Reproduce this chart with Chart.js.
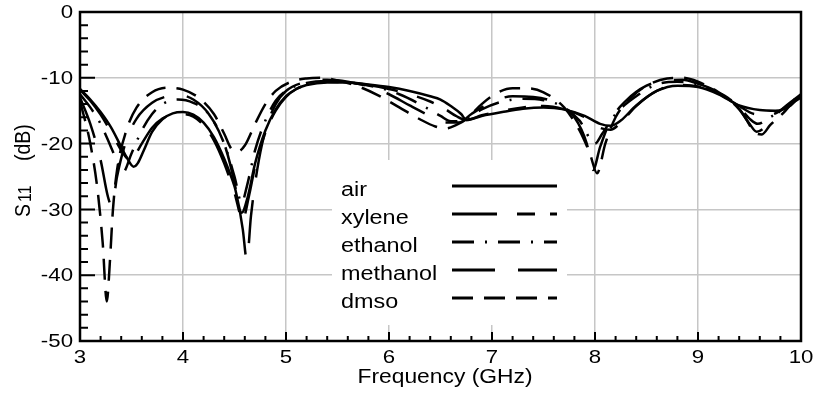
<!DOCTYPE html>
<html>
<head>
<meta charset="utf-8">
<title>S11 vs frequency</title>
<script src="https://cdn.jsdelivr.net/npm/chart.js@4.4.1/dist/chart.umd.min.js"></script>
<style>
	body { margin: 0; background: #fff; }
	canvas { display: block; }
</style>
</head>
<body>
<canvas id="myChart" width="818" height="393"></canvas>
<script>
"use strict";

// Measured return loss (dB) of the sensor for each liquid
const seriesNames = ["air", "xylene", "ethanol", "methanol", "dmso"];

const airFreq = [3.0, 3.1, 3.2, 3.3, 3.4, 3.45, 3.52, 3.56, 3.62, 3.7, 3.8, 3.9, 4.0, 4.1, 4.2, 4.3, 4.4, 4.5, 4.57, 4.63, 4.7, 4.8, 4.9, 5.0, 5.1, 5.2, 5.4, 5.6, 5.8, 6.0, 6.2, 6.4, 6.5, 6.6, 6.7, 6.75, 6.9, 7.1, 7.3, 7.5, 7.7, 7.9, 8.05, 8.15, 8.25, 8.4, 8.6, 8.8, 9.0, 9.2, 9.4, 9.6, 9.75, 9.9, 10.0];
const airS11 = [-11.7, -13.3, -15.2, -17.5, -20.5, -22.0, -23.5, -23.0, -21.0, -18.2, -16.3, -15.4, -15.2, -15.6, -16.8, -19.0, -22.3, -26.5, -30.5, -28.0, -23.0, -18.0, -14.8, -12.8, -11.7, -11.1, -10.7, -10.7, -11.0, -11.4, -12.0, -12.8, -13.3, -14.3, -15.5, -16.4, -15.8, -15.2, -14.7, -14.5, -14.8, -15.8, -17.0, -17.3, -16.5, -14.2, -12.0, -11.2, -11.4, -12.5, -14.2, -14.9, -15.0, -14.2, -12.5];

const xyleneFreq = [3.0, 3.1, 3.2, 3.3, 3.4, 3.47, 3.52, 3.6, 3.7, 3.8, 3.9, 4.0, 4.1, 4.2, 4.3, 4.4, 4.5, 4.58, 4.64, 4.7, 4.8, 4.9, 5.0, 5.1, 5.2, 5.4, 5.6, 5.8, 6.0, 6.2, 6.4, 6.55, 6.65, 6.75, 6.9, 7.1, 7.3, 7.5, 7.7, 7.9, 8.05, 8.15, 8.25, 8.4, 8.6, 8.8, 9.0, 9.2, 9.4, 9.55, 9.7, 9.85, 10.0];
const xyleneS11 = [-11.8, -13.5, -15.6, -18.2, -21.0, -22.3, -22.0, -20.0, -17.6, -16.2, -15.6, -15.5, -15.9, -17.2, -19.5, -23.0, -27.5, -31.5, -28.0, -23.5, -18.3, -15.0, -12.9, -11.7, -11.1, -10.6, -10.7, -11.1, -11.7, -12.5, -13.6, -14.8, -15.8, -16.4, -15.7, -15.0, -14.5, -14.3, -14.8, -16.0, -17.6, -17.9, -16.8, -14.3, -12.0, -11.1, -11.3, -12.4, -14.3, -15.5, -15.6, -14.5, -12.8];

const ethanolFreq = [3.0, 3.1, 3.2, 3.3, 3.37, 3.42, 3.5, 3.6, 3.7, 3.8, 3.95, 4.1, 4.25, 4.4, 4.5, 4.57, 4.62, 4.7, 4.8, 4.9, 5.0, 5.2, 5.4, 5.6, 5.9, 6.1, 6.3, 6.5, 6.6, 6.72, 6.9, 7.1, 7.3, 7.5, 7.7, 7.85, 8.0, 8.07, 8.2, 8.4, 8.6, 8.8, 9.0, 9.2, 9.4, 9.5, 9.58, 9.7, 9.85, 10.0];
const ethanolS11 = [-12.5, -14.5, -17.0, -20.5, -23.0, -24.3, -21.5, -18.0, -15.5, -14.0, -13.3, -13.8, -15.5, -20.0, -25.0, -29.0, -26.5, -21.0, -16.5, -13.5, -12.0, -10.8, -10.5, -10.7, -11.5, -12.5, -14.0, -15.8, -16.6, -16.5, -14.8, -13.6, -13.2, -13.4, -14.5, -16.5, -20.0, -18.5, -15.5, -12.8, -11.0, -10.6, -11.0, -12.3, -14.5, -16.2, -17.0, -16.0, -14.5, -13.0];

const methanolFreq = [3.0, 3.1, 3.2, 3.27, 3.31, 3.36, 3.45, 3.55, 3.7, 3.85, 3.95, 4.1, 4.25, 4.4, 4.5, 4.58, 4.62, 4.66, 4.72, 4.8, 4.9, 5.0, 5.2, 5.4, 5.6, 5.8, 6.0, 6.2, 6.4, 6.55, 6.68, 6.8, 7.0, 7.2, 7.4, 7.6, 7.8, 7.92, 7.98, 8.05, 8.15, 8.3, 8.5, 8.7, 8.85, 9.0, 9.2, 9.4, 9.5, 9.57, 9.65, 9.8, 10.0];
const methanolS11 = [-13.0, -17.0, -22.5, -28.0, -29.5, -25.0, -19.5, -16.2, -13.8, -12.8, -12.6, -13.3, -15.5, -20.0, -26.0, -33.0, -37.7, -31.0, -24.0, -18.0, -14.0, -12.0, -10.6, -10.3, -10.6, -11.3, -12.5, -14.2, -15.8, -16.8, -16.8, -15.5, -13.7, -12.8, -12.9, -13.7, -16.0, -20.0, -24.0, -20.5, -16.5, -13.5, -11.2, -10.4, -10.3, -10.9, -12.2, -14.8, -17.0, -18.2, -17.5, -15.0, -12.5];

const dmsoFreq = [3.0, 3.1, 3.17, 3.22, 3.26, 3.29, 3.32, 3.36, 3.45, 3.55, 3.7, 3.85, 4.0, 4.15, 4.3, 4.4, 4.47, 4.53, 4.6, 4.7, 4.8, 4.9, 5.05, 5.2, 5.35, 5.5, 5.7, 5.9, 6.1, 6.3, 6.45, 6.55, 6.65, 6.75, 6.9, 7.05, 7.2, 7.35, 7.5, 7.7, 7.85, 7.95, 8.02, 8.1, 8.2, 8.35, 8.5, 8.7, 8.85, 9.0, 9.2, 9.35, 9.45, 9.55, 9.62, 9.7, 9.85, 10.0];
const dmsoS11 = [-13.5, -20.0, -27.0, -35.0, -44.0, -38.0, -30.0, -24.0, -18.0, -14.5, -12.2, -11.5, -11.8, -13.0, -15.5, -18.5, -20.8, -21.2, -20.3, -17.0, -14.0, -12.0, -10.6, -10.1, -10.0, -10.4, -11.3, -12.7, -14.5, -16.3, -17.4, -17.7, -17.2, -16.3, -14.0, -12.3, -11.6, -11.6, -12.2, -14.5, -18.0, -21.5, -24.5, -20.0, -16.0, -13.0, -11.2, -10.1, -10.0, -10.6, -12.2, -13.8, -15.8, -18.3, -18.6, -17.2, -15.0, -12.0];

// Axis ticks
const xTickLabels = ["3", "4", "5", "6", "7", "8", "9", "10"];
const yTickLabels = ["0", "-10", "-20", "-30", "-40", "-50"];

const freqs = [airFreq, xyleneFreq, ethanolFreq, methanolFreq, dmsoFreq];
const values = [airS11, xyleneS11, ethanolS11, methanolS11, dmsoS11];

// Line styles for each liquid
const dashes = [[], [45, 20, 18, 15], [22, 11, 2, 11], [43, 23], [21, 11]];

// The old plot was exported slightly wide, so text is stretched a bit
const TEXT_STRETCH = 1.17;
const FONT = "Liberation Sans, Arial, sans-serif";

function stretchedText(ctx, text, x, y, size, align, baseline) {
	ctx.save();
	ctx.translate(x, y);
	ctx.scale(TEXT_STRETCH, 1);
	ctx.font = size + "px " + FONT;
	ctx.fillStyle = "#000";
	ctx.textAlign = align;
	ctx.textBaseline = baseline;
	ctx.fillText(text, 0, 0);
	ctx.restore();
}

// Legend box area, drawn inside the plot
const legendBox = { left: 332, top: 160, right: 567, bottom: 325 };

const framePlugin = {
	id: "frame",
	beforeDatasetsDraw(chart) {
		const ctx = chart.ctx;
		ctx.save();
		ctx.fillStyle = "#fff";
		ctx.fillRect(legendBox.left, legendBox.top, legendBox.right - legendBox.left, legendBox.bottom - legendBox.top);
		ctx.restore();
	},
	afterDatasetsDraw(chart) {
		const ctx = chart.ctx;
		const area = chart.chartArea;
		const xs = chart.scales.x;
		const ys = chart.scales.y;

		ctx.save();
		ctx.strokeStyle = "#000";
		ctx.lineWidth = 2.5;
		ctx.strokeRect(area.left, area.top, area.right - area.left, area.bottom - area.top);

		// Inward tick marks, minor every 0.2 GHz and 2 dB
		ctx.lineWidth = 2;
		ctx.beginPath();
		for (let i = 0; i <= 35; i++) {
			const px = xs.getPixelForValue(3 + i * 0.2);
			const len = i % 5 === 0 ? 9 : 5;
			ctx.moveTo(px, area.bottom);
			ctx.lineTo(px, area.bottom - len);
		}
		for (let i = 0; i <= 25; i++) {
			const py = ys.getPixelForValue(-i * 2);
			const len = i % 5 === 0 ? 15 : 8;
			ctx.moveTo(area.left, py);
			ctx.lineTo(area.left + len, py);
		}
		ctx.stroke();
		ctx.restore();

		// Tick labels
		xTickLabels.forEach(function (label) {
			stretchedText(ctx, label, xs.getPixelForValue(Number(label)), 358, 19, "center", "middle");
		});
		yTickLabels.forEach(function (label) {
			stretchedText(ctx, label, 73, ys.getPixelForValue(Number(label)) + 1, 19, "right", "middle");
		});

		// Axis titles
		stretchedText(ctx, "Frequency (GHz)", 445, 383, 19.5, "center", "alphabetic");

		// Rotated y title, S with subscript 11
		ctx.save();
		ctx.translate(30, 217);
		ctx.scale(TEXT_STRETCH, 1);
		ctx.rotate(-Math.PI / 2);
		ctx.fillStyle = "#000";
		ctx.textBaseline = "alphabetic";
		ctx.textAlign = "left";
		ctx.font = "19.5px " + FONT;
		ctx.fillText("S", 0, 0);
		ctx.font = "16px " + FONT;
		ctx.fillText("11", 15, 1);
		ctx.font = "19.5px " + FONT;
		ctx.fillText("(dB)", 56, 0);
		ctx.restore();

		// Legend entries
		seriesNames.forEach(function (name, i) {
			const ly = 186 + i * 28;
			stretchedText(ctx, name, 341, ly + 10, 20, "left", "alphabetic");
			ctx.save();
			ctx.strokeStyle = "#000";
			ctx.lineWidth = 3;
			ctx.setLineDash(dashes[i]);
			ctx.beginPath();
			ctx.moveTo(452, ly);
			ctx.lineTo(557, ly);
			ctx.stroke();
			ctx.restore();
		});
	}
};

function buildDatasets() {
	return seriesNames.map(function (name, i) {
		return {
			label: name,
			data: freqs[i].map(function (f, j) {
				return { x: f, y: values[i][j] };
			}),
			borderColor: "#000",
			borderWidth: 2.5,
			borderDash: dashes[i],
			pointRadius: 0,
			fill: false,
			cubicInterpolationMode: "monotone"
		};
	});
}

function generateChart() {
	const ctx = document.getElementById("myChart");

	new Chart(ctx, {
		type: "line",
		data: { datasets: buildDatasets() },
		plugins: [framePlugin],
		options: {
			responsive: false,
			animation: false,
			layout: { padding: { top: 12, right: 17, left: 0, bottom: 0 } },
			plugins: {
				legend: { display: false },
				tooltip: { enabled: false }
			},
			scales: {
				x: {
					type: "linear",
					min: 3,
					max: 10,
					ticks: { stepSize: 1, display: false },
					grid: { color: "#c6c6c6", lineWidth: 1.5, drawTicks: false },
					border: { display: false },
					afterFit: function (scale) { scale.height = 52; }
				},
				y: {
					type: "linear",
					min: -50,
					max: 0,
					ticks: { stepSize: 10, display: false },
					grid: { color: "#c6c6c6", lineWidth: 1.5, drawTicks: false },
					border: { display: false },
					afterFit: function (scale) { scale.width = 80; }
				}
			}
		}
	});
}

generateChart();
</script>
</body>
</html>
